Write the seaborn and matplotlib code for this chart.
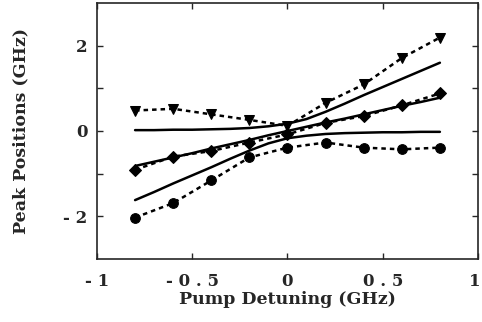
import matplotlib
matplotlib.use("Agg")
import matplotlib.pyplot as plt
import matplotlib.transforms as mtransforms
import seaborn as sns
import pandas as pd

# measured peaks
x_meas = [-0.8, -0.6, -0.4, -0.2, 0.0, 0.2, 0.4, 0.6, 0.8]
upper_meas = [0.48, 0.52, 0.39, 0.26, 0.12, 0.66, 1.09, 1.71, 2.19]
middle_meas = [-0.91, -0.60, -0.47, -0.27, -0.08, 0.19, 0.35, 0.60, 0.88]
lower_meas = [-2.03, -1.69, -1.16, -0.62, -0.39, -0.27, -0.39, -0.43, -0.39]

# theory curves
x_fit = [-0.8, -0.7, -0.6, -0.5, -0.4, -0.3, -0.2, -0.1, 0.0,
         0.1, 0.2, 0.3, 0.4, 0.5, 0.6, 0.7, 0.8]
upper_fit = [0.02, 0.02, 0.03, 0.03, 0.04, 0.05, 0.07, 0.11, 0.17,
             0.28, 0.45, 0.64, 0.84, 1.03, 1.22, 1.41, 1.60]
middle_fit = [-0.82, -0.72, -0.62, -0.52, -0.41, -0.31, -0.21, -0.10, 0.0,
              0.10, 0.20, 0.29, 0.39, 0.49, 0.59, 0.68, 0.78]
lower_fit = [-1.62, -1.43, -1.23, -1.04, -0.85, -0.65, -0.46, -0.29, -0.17,
             -0.11, -0.07, -0.05, -0.04, -0.03, -0.03, -0.02, -0.02]

x_ticks = [-1, -0.5, 0, 0.5, 1]
x_ticklabels = ["- 1", "- 0 . 5", "0", "0 . 5", "1"]
y_ticks = [-2, -1, 0, 1, 2]
y_ticklabels = ["- 2", "", "0", "", "2"]

sns.set_style("ticks")
plt.rcParams['font.family'] = ['DejaVu Serif', 'Liberation Serif']
plt.rcParams['font.weight'] = 'bold'

fig = plt.figure(figsize=(4.82, 3.22), dpi=100)
ax = fig.add_axes([0.2012, 0.1957, 0.7905, 0.795])

for yf in (upper_fit, middle_fit, lower_fit):
    sns.lineplot(x=x_fit, y=yf, ax=ax, color="black", linewidth=1.8,
                 sort=False, estimator=None)

dash = (0, (1.8, 1.6))
for ym, mk, ms in ((upper_meas, "v", 7.5), (middle_meas, "D", 5.8),
                   (lower_meas, "o", 7)):
    sns.lineplot(x=x_meas, y=ym, ax=ax, color="black", linewidth=1.8,
                 linestyle=dash, marker=mk, markersize=ms,
                 markeredgecolor="black", markerfacecolor="black",
                 sort=False, estimator=None)

ax.set_xlim(-1, 1)
ax.set_ylim(-3, 3)
ax.set_xticks(x_ticks)
ax.set_xticklabels(x_ticklabels)
ax.set_yticks(y_ticks)
ax.set_yticklabels(y_ticklabels)
ax.tick_params(direction="in", length=4, width=1, top=True, right=True,
               labelsize=12)
ax.tick_params(axis="x", pad=10)
ax.tick_params(axis="y", pad=7)
for s in ax.spines.values():
    s.set_linewidth(1.2)
    s.set_visible(True)
ax.set_xlabel("Pump Detuning (GHz)", fontsize=12.5, fontweight="bold", labelpad=1)
ax.set_ylabel("Peak Positions (GHz)", fontsize=12.5, fontweight="bold", labelpad=24)

# nudge the last x tick label so it stays inside the figure
last = ax.get_xticklabels()[-1]
last.set_transform(last.get_transform() +
                   mtransforms.ScaledTranslation(-3 / 100, 0, fig.dpi_scale_trans))

fig.savefig("out.png", dpi=100)
